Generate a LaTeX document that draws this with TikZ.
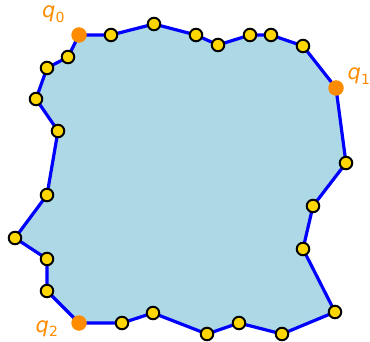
\documentclass[tikz,border=0pt]{standalone}
\usepackage{fontspec}
\setmainfont{DejaVu Sans}
\usepackage{xcolor}
\usepackage{tikz}
\usetikzlibrary{positioning}

\definecolor{regionfill}{RGB}{173,216,230}
\definecolor{ptorange}{RGB}{255,140,0}
\definecolor{ptgold}{RGB}{255,215,0}
\newcommand{\qname}[1]{\textit{q}\raisebox{-5pt}{\fontsize{14}{14}\selectfont #1}}

\begin{document}
\begin{tikzpicture}[
  x=1pt, y=-1pt,
  region/.style={fill=regionfill, draw=blue, line width=3.2pt, line join=round},
  vtx/.style={circle, draw=black, line width=2pt, fill=ptgold,
              minimum size=12.5pt, inner sep=0pt},
  qpt/.style={circle, fill=ptorange, minimum size=15.5pt, inner sep=0pt},
  qlbl/.style={font=\fontsize{21}{21}\selectfont, text=ptorange,
               inner sep=0pt, anchor=base west}
]
  \useasboundingbox (0,0) rectangle (370,342);
  % boundary points, clockwise from q0
  \foreach \px/\py [count=\i] in {79/35, 111/35, 154/24, 196/35, 218/45,
      250/35, 271/35, 303/46, 336/88, 346/163, 313/206, 303/249, 335/312,
      282/334, 239/323, 207/334, 153/313, 122/323, 79/323, 47/291, 47/259,
      15/238, 47/195, 58/131, 36/99, 47/68, 68/57}
    \coordinate (v\i) at (\px,\py);

  \draw[region] (v1) \foreach \i in {2,...,27} { -- (v\i) } -- cycle;

  \foreach \i in {2,...,8,10,11,...,18,20,21,...,27}
    \node[vtx] (d\i) at (v\i) {};
  \node[qpt] (q0) at (v1) {};
  \node[qpt] (q1) at (v9) {};
  \node[qpt] (q2) at (v19) {};

  \node[qlbl] (l0) at (42,18) {\qname{0}};
  \node[qlbl] (l1) at (347.5,80) {\qname{1}};
  \node[qlbl] (l2) at (35.5,332) {\qname{2}};
\end{tikzpicture}
\end{document}
